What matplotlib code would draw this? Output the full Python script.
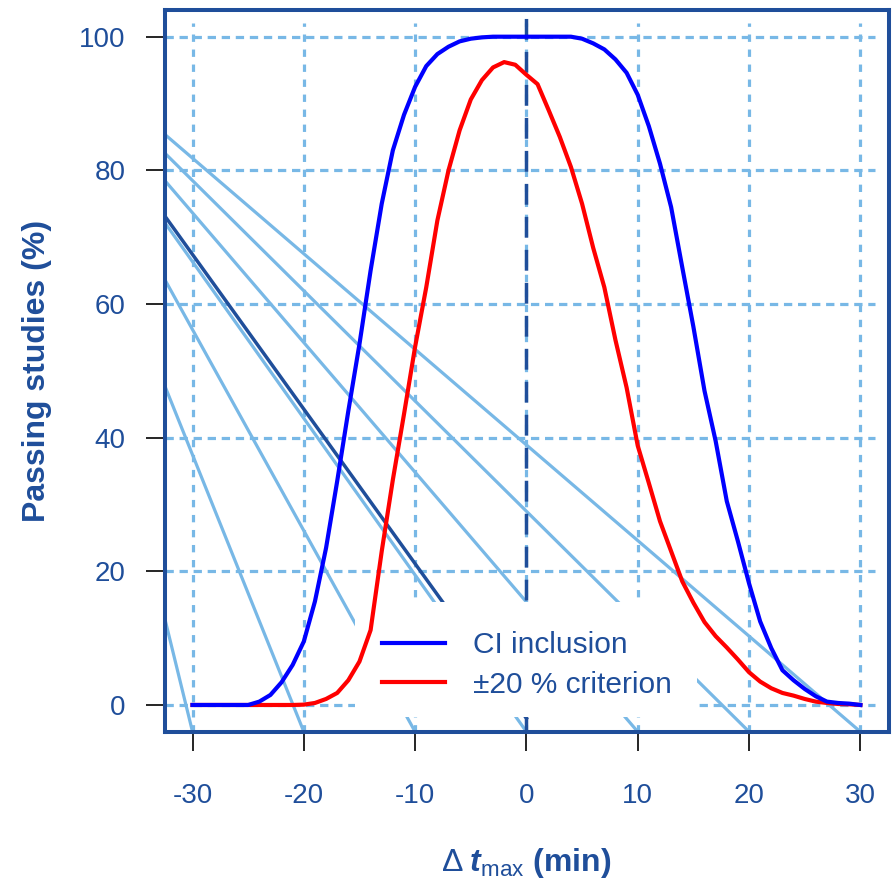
import matplotlib
matplotlib.use('Agg')
import matplotlib.pyplot as plt
from matplotlib.patches import Rectangle

plt.rcParams['font.family'] = ['Liberation Sans', 'DejaVu Sans']
plt.rcParams['axes.unicode_minus'] = False
plt.rcParams['mathtext.fontset'] = 'custom'
plt.rcParams['mathtext.rm'] = 'Liberation Sans'
plt.rcParams['mathtext.it'] = 'Liberation Sans:italic'
plt.rcParams['mathtext.bf'] = 'Liberation Sans:bold'
plt.rcParams['mathtext.bfit'] = 'Liberation Sans:italic:bold'

# time difference (min)
dt = list(range(-30, 31))

# CI inclusion (%)
ci_incl = [0, 0, 0, 0, 0, 0, 0.5, 1.5, 3.4, 6.0,
           9.5, 15.5, 23.5, 33.5, 44.0, 54.0, 65.0, 75.0, 83.0, 88.3,
           92.5, 95.6, 97.4, 98.5, 99.3, 99.7, 99.9, 100, 100, 100,
           100, 100, 100, 100, 100, 99.7, 99.0, 98.1, 96.6, 94.6,
           91.3, 86.6, 81.0, 74.5, 65.5, 56.6, 47.0, 39.5, 30.5, 24.5,
           18.2, 12.5, 8.5, 5.2, 3.7, 2.4, 1.3, 0.5, 0.3, 0.2,
           0]

# +-20 % criterion (%)
crit20 = [0, 0, 0, 0, 0, 0, 0, 0, 0, 0,
          0.05, 0.3, 0.9, 1.8, 3.7, 6.5, 11.2, 23.0, 33.7, 43.5,
          53.6, 62.5, 72.5, 80.0, 86.0, 90.6, 93.5, 95.4, 96.2, 95.8,
          94.3, 92.9, 89.0, 85.0, 80.5, 75.0, 68.4, 62.5, 54.6, 47.5,
          38.8, 33.2, 27.5, 23.0, 18.5, 15.3, 12.4, 10.3, 8.6, 6.8,
          4.9, 3.5, 2.5, 1.8, 1.4, 0.9, 0.5, 0.3, 0.15, 0.1,
          0]

# reference lines: value at left edge and x where they reach the bottom
ref_start = [13.0, 47.8, 63.7, 72.2, 78.5, 82.6, 85.4]
ref_end = [-30, -20, -10, 0, 10, 20, 30]
main_ref_start = 73.2
main_ref_end = (0, -2)

xmin, xmax = -32.5, 32.55
ymin, ymax = -4, 104

dark = '#1F4E9A'
light = '#78B8E6'

fig = plt.figure(figsize=(8.94, 8.82), dpi=100)
ax = fig.add_axes([0.1842, 0.1704, 0.8099, 0.8183])
ax.set_xlim(xmin, xmax)
ax.set_ylim(ymin, ymax)

# grid
ax.hlines(range(0, 101, 20), xmin, 31.3, colors=light, lw=2.3,
          linestyles=(0, (2.6, 1.8)), zorder=1)
ax.vlines(range(-30, 31, 10), ymin, 102.1, colors=light, lw=2.3,
          linestyles=(0, (2.3, 2.4)), zorder=1)

for y0, x1 in zip(ref_start, ref_end):
    ax.plot([xmin, x1], [y0, ymin], color=light, lw=2.3, zorder=2)
ax.plot([xmin, main_ref_end[0]], [main_ref_start, main_ref_end[1]],
        color=dark, lw=2.5, zorder=2.5)

ax.axvline(0, color=dark, lw=2.5, linestyle=(0, (6, 3.5)), zorder=3)

# white legend box
ax.add_patch(Rectangle((-15.4, -1.75), 30.7, 17.2, facecolor='white',
                       edgecolor='none', zorder=4))

ax.plot(dt, crit20, color='#FF0000', lw=3.0, zorder=5, label='±20 % criterion')
ax.plot(dt, ci_incl, color='#0000FF', lw=3.0, zorder=6, label='CI inclusion')

h, l = ax.get_legend_handles_labels()
leg = ax.legend(h[::-1], l[::-1], loc='upper left', bbox_to_anchor=(-12.95, 11.0),
                bbox_transform=ax.transData, frameon=False, fontsize=21.5,
                handlelength=2.1, handletextpad=0.95, labelspacing=0.38,
                borderpad=0, borderaxespad=0)
leg.set_zorder(7)
for t in leg.get_texts():
    t.set_color(dark)

for side in ['left', 'right', 'top', 'bottom']:
    ax.spines[side].set_color(dark)
    ax.spines[side].set_linewidth(2.9)
    ax.spines[side].set_zorder(8)

ax.set_xticks(range(-30, 31, 10))
ax.set_yticks(range(0, 101, 20))
ax.tick_params(axis='both', direction='out', length=14, width=1.2,
               color='black', labelcolor=dark, labelsize=20)
ax.tick_params(axis='y', pad=14)
ax.tick_params(axis='x', pad=23)

ax.set_ylabel('Passing studies (%)', fontsize=23, fontweight='bold', color=dark)
ax.yaxis.set_label_coords(-0.156, 0.5)
ax.set_xlabel(r'$\mathrm{\Delta}\;\mathbfit{t}_{\mathrm{max}}$ (min)',
              fontsize=23, fontweight='bold', color=dark)
ax.xaxis.set_label_coords(0.5, -0.158)

fig.savefig('out.png', dpi=100)
